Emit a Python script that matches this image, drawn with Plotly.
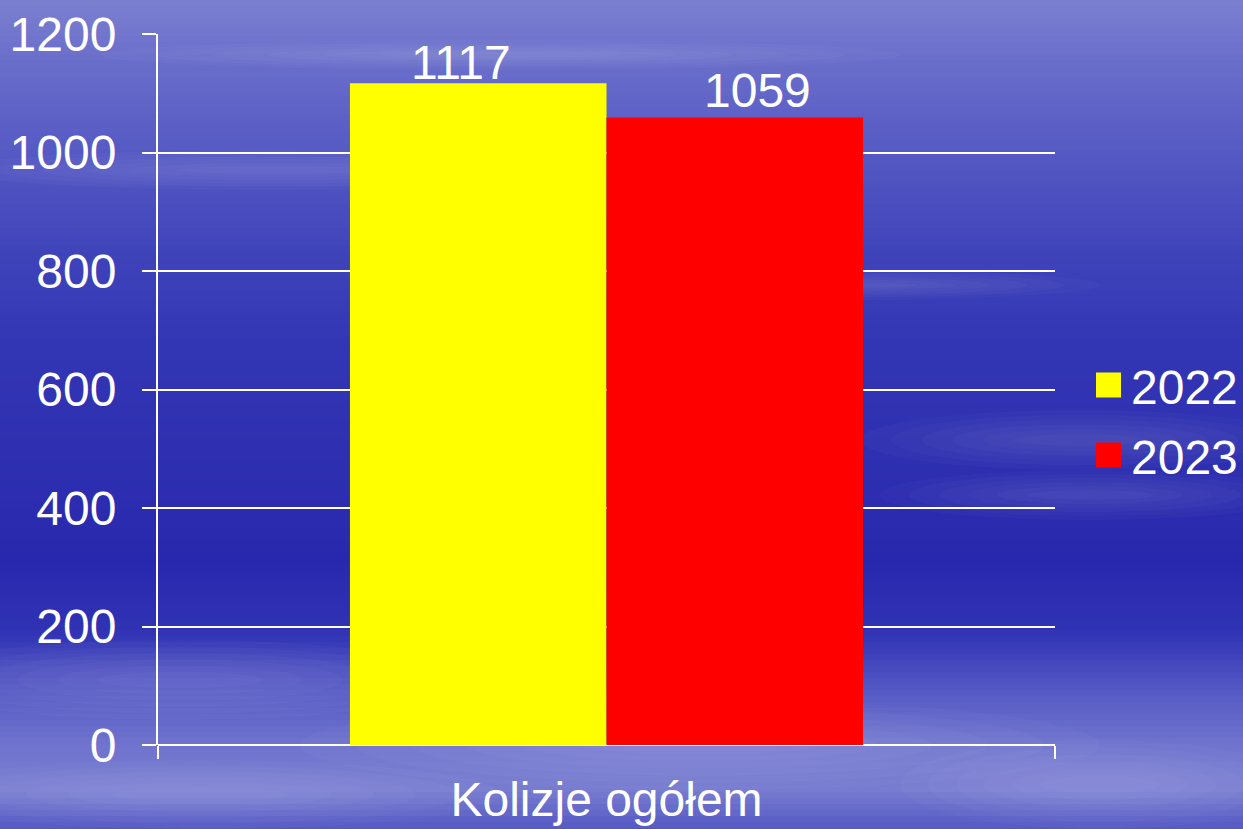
import plotly.graph_objects as go

categories = ["Kolizje ogółem"]
years = ["2022", "2023"]
values_2022 = [1117]
values_2023 = [1059]
y_ticks = [0, 200, 400, 600, 800, 1000, 1200]

colors = {"2022": "#ffff00", "2023": "#ff0000"}
FONT = "Arial, Liberation Sans, sans-serif"
FS = 48

fig = go.Figure()
for yr, vals in zip(years, [values_2022, values_2023]):
    fig.add_trace(go.Bar(
        x=categories, y=vals, name=yr, marker=dict(color=colors[yr], line=dict(width=0)),
        showlegend=False, cliponaxis=False,
    ))

W, H = 1243, 829
L, R, T, B = 158, 188, 34, 84
pw, ph = W - L - R, H - T - B

def px_to_paper_x(px):
    return (px - L) / pw

def px_to_paper_y(py):
    return (H - B - py) / ph

stops = [
    (0, (124, 128, 208)), (60, (106, 110, 202)), (150, (86, 90, 196)),
    (250, (64, 68, 186)), (350, (50, 53, 180)), (450, (46, 48, 177)),
    (560, (40, 40, 174)), (630, (48, 50, 180)), (690, (84, 88, 196)),
    (745, (112, 116, 206)), (790, (120, 124, 208)), (829, (84, 88, 196)),
]

def color_at(py):
    for (y0, c0), (y1, c1) in zip(stops[:-1], stops[1:]):
        if y0 <= py <= y1:
            t = (py - y0) / (y1 - y0)
            return tuple(int(round(a + (b - a) * t)) for a, b in zip(c0, c1))
    return stops[-1][1]

shapes = []
step = 6
for py in range(0, H, step):
    c = color_at(py + step / 2)
    shapes.append(dict(
        type="rect", xref="paper", yref="paper", layer="below",
        x0=px_to_paper_x(-5), x1=px_to_paper_x(W + 5),
        y0=px_to_paper_y(py + step + 1), y1=px_to_paper_y(py),
        fillcolor=f"rgb{c}", line=dict(width=0),
    ))

# soft cloud streaks (stacked faint ellipses for soft edges)
clouds = [
    (-100, 640, 460, 720), (300, 700, 1100, 790), (860, 410, 1300, 470),
    (880, 470, 1300, 520), (-50, 150, 600, 190), (580, 270, 1100, 300),
    (900, 740, 1300, 829), (-100, 760, 500, 829), (100, 40, 900, 70),
]
for x0, y0, x1, y1 in clouds:
    for k in range(6):
        sx = (x1 - x0) * 0.07 * k
        sy = (y1 - y0) * 0.08 * k
        shapes.append(dict(
            type="circle", xref="paper", yref="paper", layer="below",
            x0=px_to_paper_x(x0 + sx), x1=px_to_paper_x(x1 - sx),
            y0=px_to_paper_y(y1 - sy), y1=px_to_paper_y(y0 + sy),
            fillcolor="white", opacity=0.025, line=dict(width=0),
        ))

annotations = []
# value labels, anchored at each bar's data value
label_xshift = {"2022": -146, "2023": 151}
label_yshift = {"2022": -7, "2023": 0}
for yr, vals in zip(years, [values_2022, values_2023]):
    for cat, v in zip(categories, vals):
        annotations.append(dict(
            x=cat, y=v, xref="x", yref="y", text=str(v), showarrow=False,
            xanchor="center", yanchor="bottom", xshift=label_xshift[yr],
            yshift=label_yshift[yr], borderpad=0,
            font=dict(size=FS, color="white", family=FONT),
        ))

# legend (squares + labels)
legend_centers = [385, 455]
for yr, cy in zip(years, legend_centers):
    shapes.append(dict(
        type="rect", xref="paper", yref="paper", layer="above",
        x0=px_to_paper_x(1096), x1=px_to_paper_x(1121),
        y0=px_to_paper_y(cy + 12.5), y1=px_to_paper_y(cy - 12.5),
        fillcolor=colors[yr], line=dict(width=0),
    ))
    annotations.append(dict(
        text=yr, xref="paper", yref="paper", x=px_to_paper_x(1129), y=px_to_paper_y(cy + 2),
        xanchor="left", yanchor="middle", showarrow=False,
        font=dict(size=FS, color="white", family=FONT),
    ))

fig.update_layout(
    width=W, height=H,
    margin=dict(l=L, r=R, t=T, b=B, pad=0, autoexpand=False),
    paper_bgcolor="rgb(60,64,184)", plot_bgcolor="rgba(0,0,0,0)",
    barmode="group", bargap=0.428, bargroupgap=0,
    shapes=shapes, annotations=annotations, showlegend=False,
    font=dict(family=FONT, color="white", size=FS),
    xaxis=dict(
        type="category", range=[-0.5, 0.5], showgrid=False, zeroline=False,
        showline=False, ticks="outside", tickson="boundaries", ticklen=13,
        tickcolor="white", tickwidth=2, tickfont=dict(size=FS, color="white", family=FONT),
        ticklabelstandoff=22, automargin=False,
    ),
    yaxis=dict(
        range=[0, 1200], tickvals=y_ticks, showgrid=True, gridcolor="white", gridwidth=1.5,
        zeroline=True, zerolinecolor="white", zerolinewidth=2,
        showline=True, linecolor="white", linewidth=2,
        ticks="outside", ticklen=14, tickcolor="white", tickwidth=2,
        tickfont=dict(size=FS, color="white", family=FONT), ticklabelstandoff=16,
        automargin=False,
    ),
)

fig.write_html(
    "out.html",
    config={"displayModeBar": False},
    post_script="document.body.style.margin='0';document.body.style.overflow='hidden';",
)
